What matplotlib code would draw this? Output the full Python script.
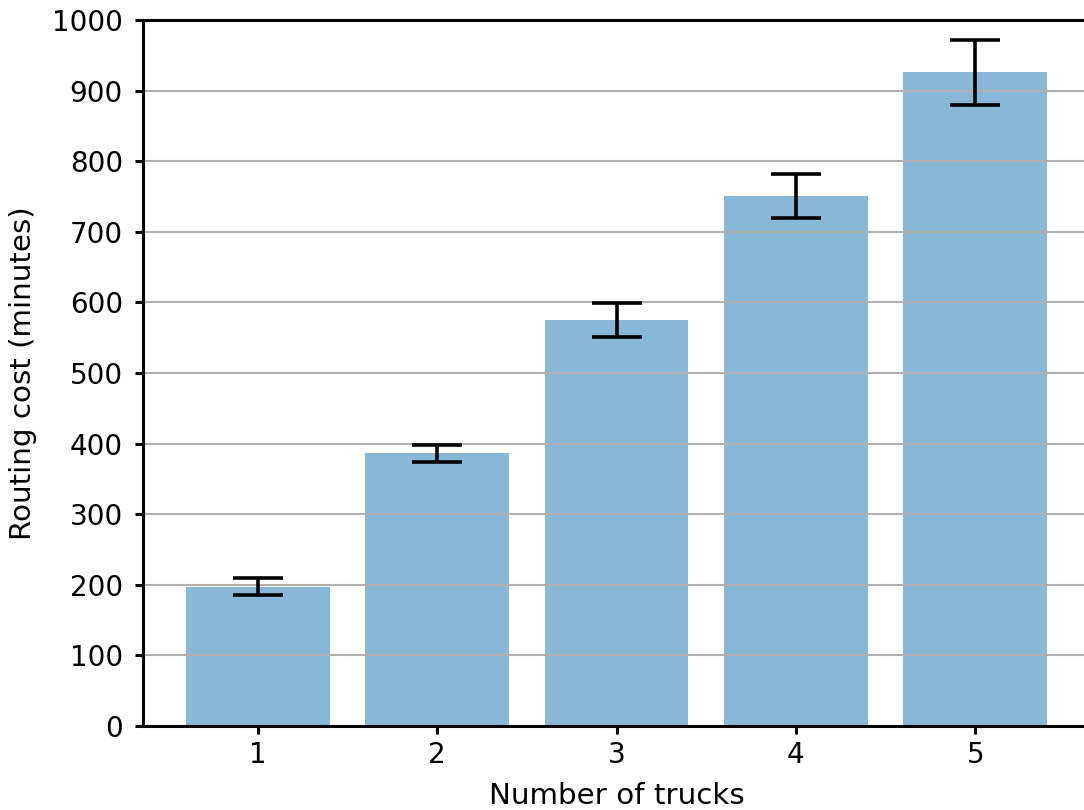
import matplotlib
matplotlib.use("Agg")
import matplotlib.pyplot as plt

# Mean routing cost per fleet size, with spread
trucks = [1, 2, 3, 4, 5]
tick_labels = ["1", "2", "3", "4", "5"]
mean_cost = [197, 386, 575, 751, 926]
cost_err = [12, 12, 24, 31, 46]

plt.rcParams["font.family"] = "DejaVu Sans"
plt.rcParams["font.size"] = 20

fig = plt.figure(figsize=(10.84, 8.10), dpi=100)
ax = fig.add_axes([143 / 1084, 84 / 810, 947 / 1084, 706 / 810])

# grid sits above the bars but below the error bars
ax.set_axisbelow(False)
ax.yaxis.grid(True, color="#b0b0b0", linewidth=1.5)

ax.bar(trucks, mean_cost, width=0.8, color="#89b8d7", zorder=1)
ax.errorbar(trucks, mean_cost, yerr=cost_err, fmt="none", ecolor="black",
            elinewidth=2.6, capsize=18, capthick=2.6, zorder=3)

ax.set_ylim(0, 1000)
ax.set_yticks(range(0, 1001, 100))
ax.set_xticks(trucks)
ax.set_xticklabels(tick_labels)

for sp in ax.spines.values():
    sp.set_linewidth(2.2)
    sp.set_zorder(4)
ax.tick_params(axis="both", length=6, width=2.2, labelsize=20)
ax.tick_params(axis="y", pad=8.5)
ax.tick_params(axis="x", pad=5)

ax.set_xlabel("Number of trucks", fontsize=21.2)
ax.set_ylabel("Routing cost (minutes)", fontsize=21.2)
ax.yaxis.set_label_coords(-0.112, 0.5)
ax.xaxis.set_label_coords(0.5, -0.08)

fig.savefig("out.png", dpi=100)
